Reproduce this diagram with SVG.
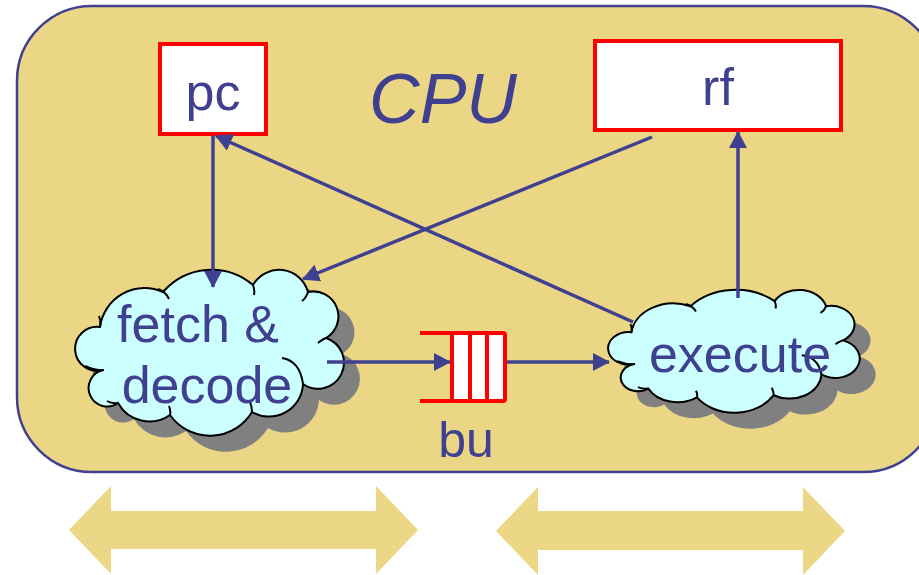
<svg xmlns="http://www.w3.org/2000/svg" width="919" height="575" viewBox="0 0 919 575">
  <style>
    .lbl { font-family: "Liberation Sans", Arial, sans-serif; fill: #404091; font-size: 52px; text-anchor: middle; }
    .title { font-size: 70px; font-style: italic; }
    .reg { fill: #ffffff; stroke: #ff0000; stroke-width: 4; }
    .edge { fill: none; stroke: #404091; stroke-width: 3.5; marker-end: url(#arrow); }
    .cloud { fill: #ccffff; stroke: #000000; stroke-width: 2; }
    .ticks { fill: none; stroke: #000000; stroke-width: 2; }
    .shadow { fill: #808080; stroke: none; }
    .span { fill: #ebd785; }
  </style>
  <defs>
    <marker id="arrow" markerUnits="userSpaceOnUse" viewBox="0 0 17 18" refX="16" refY="9" markerWidth="17" markerHeight="18" orient="auto">
      <path d="M0,0 L17,9 L0,18 Z" fill="#404091"/>
    </marker>
    <!-- cloud outline, drawn at the fetch & decode size; other clouds rescale it -->
    <path id="cloudShape" vector-effect="non-scaling-stroke" d="M103,370 A22,22 0 1 1 100,327 A45,45 0 0 1 163,292 A64,64 0 0 1 253,285 A30,30 0 0 1 308,292 A25,25 0 0 1 326,338 A26,26 0 1 1 303,384 A34,34 0 0 1 252,412 A49,49 0 0 1 170,415 A36,36 0 0 1 118,403 A18.5,18.5 0 1 1 103,370 Z"/>
    <!-- short inner strokes where the lobes meet -->
    <path id="cloudTicks" vector-effect="non-scaling-stroke" d="M85,366 Q95,371 104,370 M282,358 Q300,361 303,384 M318,343 Q323,339 326,338 M158,289 Q166,292 169,299 M169,406 Q171,411 170,415 M250,402 Q252,407 252,412 M118,403 Q112,404 107,401 M100,327 Q101,321 99,316 M308,292 Q306,298 302,301 M253,285 Q255,290 254,295"/>
  </defs>

  <!-- CPU enclosure -->
  <g id="cpu">
    <rect x="17" y="6" width="921" height="466" rx="75" ry="75" fill="#ead684" stroke="#404091" stroke-width="2.5"/>
    <text class="lbl title" x="443" y="123">CPU</text>
  </g>

  <!-- stage spans below the CPU -->
  <g id="span-front">
    <path class="span" d="M69,530 L111,486 L111,511 L376,511 L376,486 L418,530 L376,574 L376,549 L111,549 L111,574 Z"/>
  </g>
  <g id="span-back">
    <path class="span" d="M496,531 L538,487 L538,511 L803,511 L803,487 L845,531 L803,575 L803,550 L538,550 L538,575 Z"/>
  </g>

  <g id="fetch">
    <use href="#cloudShape" class="shadow" transform="translate(16,16)"/>
    <use href="#cloudShape" class="cloud"/>
    <use href="#cloudTicks" class="ticks"/>
    <text class="lbl" x="198" y="342">fetch &amp;</text>
    <text class="lbl" x="207" y="403">decode</text>
  </g>

  <g id="execute">
    <g transform="translate(16,16)">
      <use href="#cloudShape" class="shadow" transform="translate(608,290) scale(0.936,0.741) translate(-75,-270)"/>
    </g>
    <use href="#cloudShape" class="cloud" transform="translate(608,290) scale(0.936,0.741) translate(-75,-270)"/>
    <use href="#cloudTicks" class="ticks" transform="translate(608,290) scale(0.936,0.741) translate(-75,-270)"/>
    <text class="lbl" x="740" y="372">execute</text>
  </g>

  <g id="pc">
    <rect class="reg" x="160" y="44" width="106" height="90"/>
    <text class="lbl" x="213" y="110">pc</text>
  </g>

  <g id="rf">
    <rect class="reg" x="595" y="41" width="246" height="89"/>
    <text class="lbl" x="718" y="105">rf</text>
  </g>

  <g id="bu">
    <rect class="reg" x="452" y="333" width="53" height="68" rx="2"/>
    <path d="M420,333 H452 M420,401 H452 M470,333 V401 M487,333 V401" fill="none" stroke="#ff0000" stroke-width="4"/>
    <text class="lbl" x="466" y="457" style="font-size:50px">bu</text>
  </g>

  <g id="connectors">
    <path class="edge" d="M213,136 L213,287"/>
    <path class="edge" d="M652,137 L303,279"/>
    <path class="edge" d="M633,322 L216,136"/>
    <path class="edge" d="M738,298 L738,132"/>
    <path class="edge" d="M327,362 L450,362"/>
    <path class="edge" d="M507,362 L609,362"/>
  </g>
</svg>
